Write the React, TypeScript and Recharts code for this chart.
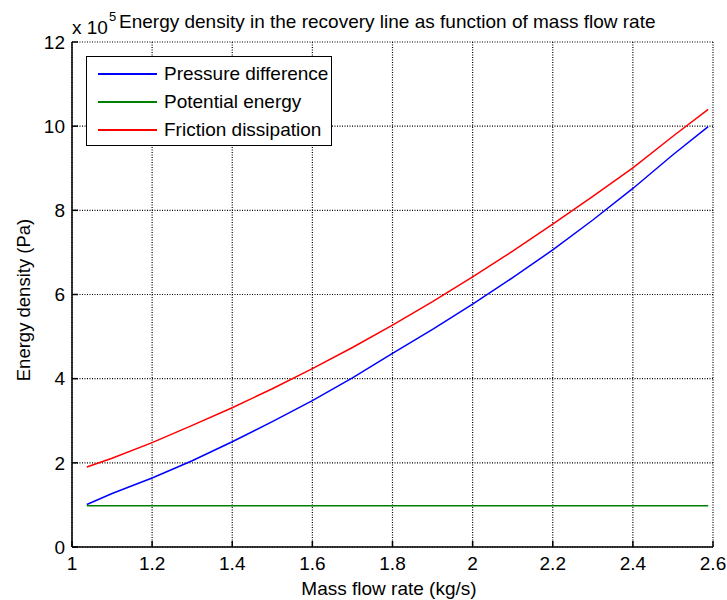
import { LineChart, Line, XAxis, YAxis, CartesianGrid, Legend } from "recharts";

// mass flow rate (kg/s)
const massFlow = [1.037, 1.1, 1.2, 1.3, 1.4, 1.5, 1.6, 1.7, 1.8, 1.9, 2.0, 2.1, 2.2, 2.3, 2.4, 2.5, 2.588];
// energy density, x 10^5 Pa
const pressureDiff = [1.01, 1.27, 1.64, 2.05, 2.5, 2.98, 3.48, 4.02, 4.6, 5.17, 5.77, 6.4, 7.06, 7.77, 8.52, 9.32, 9.99];
const potentialEnergy = [0.98, 0.98, 0.98, 0.98, 0.98, 0.98, 0.98, 0.98, 0.98, 0.98, 0.98, 0.98, 0.98, 0.98, 0.98, 0.98, 0.98];
const frictionDiss = [1.9, 2.11, 2.48, 2.89, 3.31, 3.76, 4.24, 4.74, 5.27, 5.83, 6.42, 7.03, 7.67, 8.33, 9.01, 9.76, 10.4];

const xTicks = [1, 1.2, 1.4, 1.6, 1.8, 2, 2.2, 2.4, 2.6];
const yTicks = [0, 2, 4, 6, 8, 10, 12];

const series = [
  { key: "pressure", name: "Pressure difference", color: "#0000ff" },
  { key: "potential", name: "Potential energy", color: "#008000" },
  { key: "friction", name: "Friction dissipation", color: "#ff0000" },
];

const data = massFlow.map((x, i) => ({
  x,
  pressure: pressureDiff[i],
  potential: potentialEnergy[i],
  friction: frictionDiss[i],
}));

const FONT = "'Liberation Sans', Arial, sans-serif";
const tickStyle = { fill: "#000", fontSize: 19, fontFamily: FONT };

function LegendBox() {
  return (
    <div
      style={{
        width: 244,
        height: 85,
        border: "1.5px solid #000",
        background: "#fff",
        paddingTop: 3,
        boxSizing: "content-box",
        fontFamily: FONT,
        fontSize: 19,
        color: "#000",
      }}
    >
      {series.map((s) => (
        <div key={s.key} style={{ display: "flex", alignItems: "center", height: 28 }}>
          <div style={{ marginLeft: 11, width: 59, height: 1.5, background: s.color }} />
          <span style={{ marginLeft: 7, whiteSpace: "nowrap" }}>{s.name}</span>
        </div>
      ))}
    </div>
  );
}

export default function App() {
  return (
    <div style={{ position: "absolute", left: 0, top: 0, width: 727, height: 600, background: "#fff" }}>
      <LineChart width={727} height={600} data={data} margin={{ top: 42, right: 14, bottom: 13, left: 12 }}>
        <CartesianGrid stroke="#000" strokeDasharray="1 1.5" strokeWidth={1.2} />
        <XAxis
          dataKey="x"
          type="number"
          domain={[1, 2.6]}
          ticks={xTicks}
          height={40}
          tick={tickStyle}
          tickSize={-6}
          tickMargin={16}
          stroke="#000"
          strokeWidth={1.5}
          allowDataOverflow
        />
        <XAxis
          xAxisId="top"
          orientation="top"
          dataKey="x"
          type="number"
          domain={[1, 2.6]}
          ticks={xTicks}
          height={0}
          tick={false}
          tickSize={-6}
          stroke="#000"
          strokeWidth={1.5}
        />
        <YAxis
          type="number"
          domain={[0, 12]}
          ticks={yTicks}
          width={60}
          tick={tickStyle}
          tickSize={-6}
          tickMargin={13}
          stroke="#000"
          strokeWidth={1.5}
        />
        <YAxis
          yAxisId="right"
          orientation="right"
          type="number"
          domain={[0, 12]}
          ticks={yTicks}
          width={0}
          tick={false}
          tickSize={-6}
          stroke="#000"
          strokeWidth={1.5}
        />
        {series.map((s) => (
          <Line
            key={s.key}
            type="linear"
            dataKey={s.key}
            name={s.name}
            stroke={s.color}
            strokeWidth={1.5}
            dot={false}
            isAnimationActive={false}
          />
        ))}
        <Legend
          layout="vertical"
          align="center"
          verticalAlign="middle"
          content={() => <LegendBox />}
          wrapperStyle={{ left: 86, top: 56, width: "auto", height: "auto" }}
        />
      </LineChart>
      <svg
        width={727}
        height={600}
        style={{ position: "absolute", left: 0, top: 0, pointerEvents: "none" }}
        fontFamily={FONT}
      >
        <text x={72} y={34} fontSize={19} fill="#000">x 10</text>
        <text x={109} y={21} fontSize={13} fill="#000">5</text>
        <text x={119} y={28} fontSize={19} fill="#000">
          Energy density in the recovery line as function of mass flow rate
        </text>
        <text x={389} y={595} fontSize={19} fill="#000" textAnchor="middle">
          Mass flow rate (kg/s)
        </text>
        <text x={30} y={300} fontSize={18.5} fill="#000" textAnchor="middle" transform="rotate(-90 30 300)">
          Energy density (Pa)
        </text>
      </svg>
    </div>
  );
}
